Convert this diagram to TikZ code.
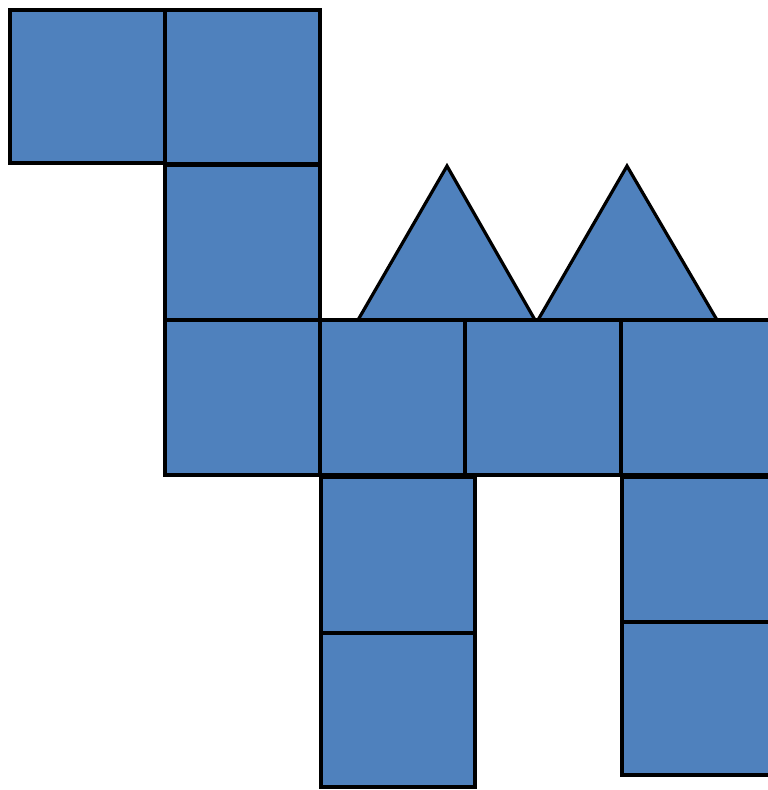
\documentclass[tikz,border=0pt]{standalone}
\usepackage{tikz}
\usepackage{xcolor}
\definecolor{tilefill}{RGB}{79,129,189}

\begin{document}
\begin{tikzpicture}[
  x=1pt, y=-1pt,
  tile/.style={draw=black, fill=tilefill, line width=3.2pt, line join=miter},
  hump/.style={draw=black, fill=tilefill, line width=3.2pt, line join=miter}
]
\useasboundingbox (0,0) rectangle (768,790);
\clip (0,0) rectangle (768,790);
% head and neck
\filldraw[tile] (10,10) rectangle (165,163);
\filldraw[tile] (165,10) rectangle (320,164);
\filldraw[tile] (165,165) rectangle (320,321);
% humps
\filldraw[hump] (358,320) -- (447,166) -- (535,320) -- cycle;
\filldraw[hump] (538,320) -- (627,166) -- (717,320) -- cycle;
% body
\filldraw[tile] (165,320) rectangle (320,475);
\filldraw[tile] (320,320) rectangle (465,475);
\filldraw[tile] (465,320) rectangle (621,475);
\filldraw[tile] (621,320) rectangle (776,475);
% legs
\filldraw[tile] (321,477) rectangle (475,633);
\filldraw[tile] (321,633) rectangle (475,787);
\filldraw[tile] (622,477) rectangle (776,622);
\filldraw[tile] (622,622) rectangle (776,775);
\end{tikzpicture}
\end{document}
